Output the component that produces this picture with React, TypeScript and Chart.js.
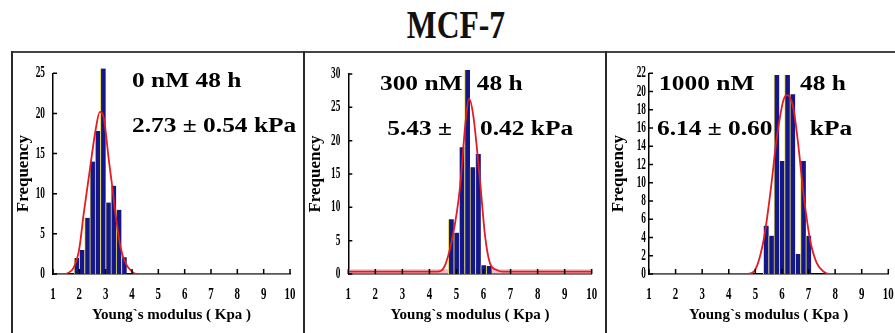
import React, { useEffect, useRef } from 'react';
import { Chart, registerables } from 'chart.js';

Chart.register(...registerables);

// ---------- text ----------
const MAIN_TITLE = 'MCF-7';
const X_TITLE = 'Young`s modulus ( Kpa )';
const Y_TITLE = 'Frequency';

// ---------- panel 1 : 0 nM 48 h ----------
const P1_BINS = [1.9, 2.1, 2.3, 2.5, 2.7, 2.9, 3.1, 3.3, 3.5, 3.7];
const P1_COUNTS = [2, 3, 7, 14, 17.8, 25.6, 8.9, 11, 8, 2.1];
const P1_FIT_X = [1, 1.45, 1.55, 1.78, 1.99, 2.17, 2.4, 2.62, 2.78, 2.93, 3.12, 3.25, 3.37, 3.56, 3.75, 4.0, 4.2, 10];
const P1_FIT_Y = [0, 0, 0.1, 0.75, 3, 7.6, 13, 18, 20.2, 19.4, 14.2, 10.9, 7.6, 3.4, 1.4, 0.3, 0, 0];
const P1_Y_MAX = 25;
const P1_Y_STEP = 5;
const P1_NOTES = ['0 nM 48 h', '2.73 ± 0.54 kPa'];

// ---------- panel 2 : 300 nM 48 h ----------
const P2_BINS = [4.8, 5.0, 5.2, 5.4, 5.6, 5.8, 6.0, 6.2];
const P2_COUNTS = [8.2, 6.2, 19, 30.6, 16, 18, 1.3, 1.2];
const P2_FIT_X = [1, 4.3, 4.52, 4.88, 5.13, 5.34, 5.46, 5.62, 5.87, 6.06, 6.24, 6.49, 6.7, 10];
const P2_FIT_Y = [0.35, 0.35, 0.85, 6.1, 13, 23, 26.3, 23.8, 14, 5.6, 1.6, 0.6, 0.35, 0.35];
const P2_BAND_X = [1, 10];
const P2_BAND_Y = [0.7, 0.7];
const P2_Y_MAX = 30;
const P2_Y_STEP = 5;
const P2_NOTES = ['300 nM', '48 h', '5.43 ±', '0.42 kPa'];

// ---------- panel 3 : 1000 nM 48 h ----------
const P3_BINS = [5.4, 5.6, 5.8, 6.0, 6.2, 6.4, 6.6, 6.8, 7.0];
const P3_COUNTS = [5.3, 4.2, 21.8, 12.4, 21.8, 19.7, 2.2, 12.4, 4.2];
const P3_FIT_X = [1, 4.7, 4.94, 5.31, 5.56, 5.81, 6.06, 6.2, 6.44, 6.62, 6.81, 7.06, 7.31, 7.6, 7.8, 10];
const P3_FIT_Y = [0, 0, 0.25, 3.7, 8.8, 15, 19.1, 19.6, 18, 14, 8.8, 3.7, 1.2, 0.2, 0, 0];
const P3_Y_MAX = 22;
const P3_Y_STEP = 2;
const P3_NOTES = ['1000 nM', '48 h', '6.14 ± 0.60', 'kPa'];

const X_MIN = 1;
const X_MAX = 10;
const X_STEP = 1;

const SERIF = '"Liberation Serif", "Times New Roman", serif';

type Note = { text: string; x: number; y: number };
type PanelCfg = {
  left: number;
  width: number;
  areaLeft: number;
  areaRight: number;
  areaTop: number;
  bins: number[];
  counts: number[];
  fitX: number[];
  fitY: number[];
  bandX?: number[];
  bandY?: number[];
  yMax: number;
  yStep: number;
  labelGap: number;
  yTitlePad: number;
  notes: Note[];
};

const CANVAS_TOP = 53;
const CANVAS_H = 280;
const AREA_BOTTOM = 221;

const PANELS: PanelCfg[] = [
  {
    left: 13, width: 290, areaLeft: 40, areaRight: 277, areaTop: 20.3,
    bins: P1_BINS, counts: P1_COUNTS, fitX: P1_FIT_X, fitY: P1_FIT_Y,
    yMax: P1_Y_MAX, yStep: P1_Y_STEP, labelGap: 8, yTitlePad: 0,
    notes: [
      { text: P1_NOTES[0], x: 4.0, y: 23.33 },
      { text: P1_NOTES[1], x: 4.0, y: 17.65 },
    ],
  },
  {
    left: 305, width: 300, areaLeft: 43.3, areaRight: 286.7, areaTop: 21,
    bins: P2_BINS, counts: P2_COUNTS, fitX: P2_FIT_X, fitY: P2_FIT_Y,
    bandX: P2_BAND_X, bandY: P2_BAND_Y,
    yMax: P2_Y_MAX, yStep: P2_Y_STEP, labelGap: 8, yTitlePad: 0,
    notes: [
      { text: P2_NOTES[0], x: 2.17, y: 27.6 },
      { text: P2_NOTES[1], x: 5.75, y: 27.6 },
      { text: P2_NOTES[2], x: 2.44, y: 20.85 },
      { text: P2_NOTES[3], x: 5.87, y: 20.85 },
    ],
  },
  {
    left: 607, width: 288, areaLeft: 42, areaRight: 281.3, areaTop: 20.3,
    bins: P3_BINS, counts: P3_COUNTS, fitX: P3_FIT_X, fitY: P3_FIT_Y,
    yMax: P3_Y_MAX, yStep: P3_Y_STEP, labelGap: 3, yTitlePad: 1,
    notes: [
      { text: P3_NOTES[0], x: 1.38, y: 20.18 },
      { text: P3_NOTES[1], x: 6.68, y: 20.18 },
      { text: P3_NOTES[2], x: 1.30, y: 15.24 },
      { text: P3_NOTES[3], x: 7.05, y: 15.24 },
    ],
  },
];

function Panel({ cfg }: { cfg: PanelCfg }) {
  const ref = useRef<HTMLCanvasElement>(null);

  useEffect(() => {
    const canvas = ref.current;
    if (!canvas) return;

    const decor = {
      id: 'decor',
      beforeDatasetsDraw(chart: any) {
        const { ctx, scales } = chart;
        ctx.save();
        ctx.font = `bold 20px ${SERIF}`;
        ctx.fillStyle = '#000';
        ctx.textAlign = 'left';
        ctx.textBaseline = 'alphabetic';
        for (const n of cfg.notes) {
          const px = scales.x.getPixelForValue(n.x);
          const py = scales.y.getPixelForValue(n.y);
          ctx.save();
          ctx.translate(px, py);
          ctx.scale(1.27, 1);
          ctx.fillText(n.text, 0, 0);
          ctx.restore();
        }
        ctx.restore();
      },
      afterDraw(chart: any) {
        const { ctx, scales, chartArea } = chart;
        const xs = scales.x;
        const ys = scales.y;
        ctx.save();
        ctx.strokeStyle = '#000';
        ctx.lineWidth = 1.5;
        ctx.beginPath();
        for (const t of ys.ticks) {
          const py = ys.getPixelForValue(t.value);
          ctx.moveTo(chartArea.left, py);
          ctx.lineTo(chartArea.left + 4, py);
        }
        for (const t of xs.ticks) {
          const px = xs.getPixelForValue(t.value);
          ctx.moveTo(px, chartArea.bottom);
          ctx.lineTo(px, chartArea.bottom - 5);
        }
        ctx.stroke();

        ctx.fillStyle = '#000';
        ctx.font = `bold 16px ${SERIF}`;
        ctx.textBaseline = 'middle';
        ctx.textAlign = 'right';
        for (const t of ys.ticks) {
          const py = ys.getPixelForValue(t.value);
          ctx.save();
          ctx.translate(chartArea.left - cfg.labelGap, py);
          ctx.scale(0.58, 1);
          ctx.fillText(String(t.value), 0, 0);
          ctx.restore();
        }
        ctx.textAlign = 'center';
        for (const t of xs.ticks) {
          const px = xs.getPixelForValue(t.value);
          ctx.save();
          ctx.translate(px, chartArea.bottom + 21);
          ctx.scale(0.68, 1);
          ctx.fillText(String(t.value), 0, 0);
          ctx.restore();
        }
        ctx.restore();
      },
    };

    const datasets: any[] = [
      {
        type: 'line',
        data: cfg.fitX.map((x, i) => ({ x, y: cfg.fitY[i] })),
        borderColor: '#e31b23',
        borderWidth: 1.8,
        pointRadius: 0,
        cubicInterpolationMode: 'monotone',
        fill: false,
      },
      {
        type: 'bar',
        data: cfg.bins.map((x, i) => ({ x, y: cfg.counts[i] })),
        backgroundColor: '#14178c',
        borderColor: '#e4da55',
        borderWidth: { top: 0, right: 0, bottom: 0, left: 1 },
        borderSkipped: false,
        barPercentage: 1,
        categoryPercentage: 1,
        clip: false,
      },
    ];
    if (cfg.bandX && cfg.bandY) {
      datasets.push({
        type: 'line',
        data: cfg.bandX.map((x, i) => ({ x, y: cfg.bandY![i] })),
        borderWidth: 0,
        pointRadius: 0,
        fill: 'origin',
        backgroundColor: 'rgba(240,150,165,0.65)',
      });
    }

    const chart = new Chart(canvas, {
      type: 'bar',
      data: { datasets },
      options: {
        responsive: false,
        animation: false,
        events: [],
        layout: {
          padding: {
            left: 0,
            top: cfg.areaTop,
            right: cfg.width - cfg.areaRight,
            bottom: 0,
          },
        },
        plugins: {
          legend: { display: false },
          tooltip: { enabled: false },
          title: { display: false },
        },
        scales: {
          x: {
            type: 'linear',
            min: X_MIN,
            max: X_MAX,
            offset: false,
            ticks: { display: false, stepSize: X_STEP },
            grid: { display: false },
            border: { display: true, color: '#000', width: 1.5 },
            title: {
              display: true,
              text: X_TITLE,
              color: '#000',
              font: { family: SERIF, size: 15, weight: 'bold' },
              padding: { top: 0, bottom: 9 },
            },
            afterFit: (s: any) => {
              s.height = CANVAS_H - AREA_BOTTOM;
            },
          },
          y: {
            type: 'linear',
            min: 0,
            max: cfg.yMax,
            ticks: { display: false, stepSize: cfg.yStep },
            grid: { display: false },
            border: { display: true, color: '#000', width: 1.5 },
            title: {
              display: true,
              text: Y_TITLE,
              color: '#000',
              font: { family: SERIF, size: 17, weight: 'bold' },
              padding: { top: cfg.yTitlePad, bottom: 0 },
            },
            afterFit: (s: any) => {
              s.width = cfg.areaLeft;
            },
          },
        },
      } as any,
      plugins: [decor],
    });

    return () => chart.destroy();
  }, [cfg]);

  return (
    <canvas
      ref={ref}
      width={cfg.width}
      height={CANVAS_H}
      style={{
        position: 'absolute',
        left: cfg.left,
        top: CANVAS_TOP,
        width: cfg.width,
        height: CANVAS_H,
      }}
    />
  );
}

export default function App() {
  const lineColor = '#2a2a2a';
  return (
    <div
      style={{
        position: 'absolute',
        left: 0,
        top: 0,
        width: 895,
        height: 333,
        background: '#fff',
        overflow: 'hidden',
      }}
    >
      <div
        style={{
          position: 'absolute',
          left: 0,
          top: 5,
          width: 912,
          textAlign: 'center',
          fontFamily: SERIF,
          fontWeight: 'bold',
          fontSize: 40,
          lineHeight: '40px',
          color: '#111',
          transform: 'scaleX(0.79)',
          transformOrigin: '456px 0',
          whiteSpace: 'nowrap',
        }}
      >
        {MAIN_TITLE}
      </div>
      <div style={{ position: 'absolute', left: 11, top: 51, width: 884, height: 2, background: '#444' }} />
      <div style={{ position: 'absolute', left: 11, top: 51, width: 2, height: 282, background: lineColor }} />
      <div style={{ position: 'absolute', left: 303, top: 51, width: 2, height: 282, background: lineColor }} />
      <div style={{ position: 'absolute', left: 605, top: 51, width: 2, height: 282, background: lineColor }} />
      {PANELS.map((p, i) => (
        <Panel key={i} cfg={p} />
      ))}
    </div>
  );
}
